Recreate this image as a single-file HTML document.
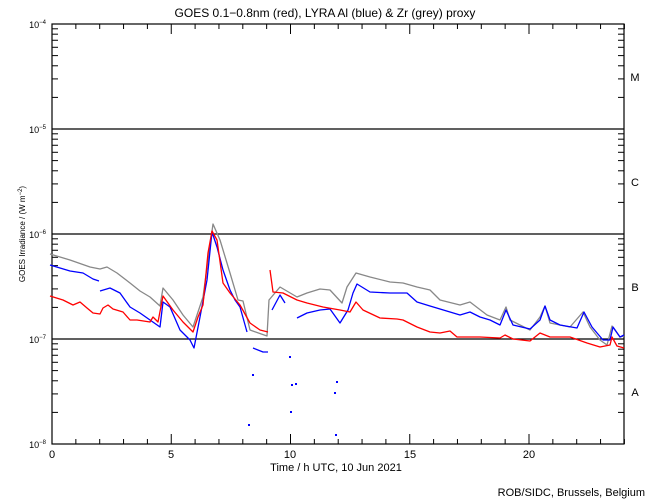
<!DOCTYPE html>
<html><head><meta charset="utf-8"><style>
body{margin:0;background:#fff}
svg{display:block;font-family:"Liberation Sans",sans-serif}
</style></head><body>
<svg id="s" width="650" height="500" xmlns="http://www.w3.org/2000/svg">
<rect width="650" height="500" fill="#fff"/>
<text x="325" y="17" font-size="12" text-anchor="middle">GOES 0.1−0.8nm (red), LYRA Al (blue) &amp; Zr (grey) proxy</text>
<g id="ax" stroke="#000" stroke-width="1" fill="none"></g>
<rect x="52" y="24" width="572" height="420" fill="none" stroke="#000" stroke-width="1.2"/>
<g stroke="#000" stroke-width="1.3">
<line x1="52" y1="129" x2="624" y2="129"/><line x1="52" y1="234" x2="624" y2="234"/><line x1="52" y1="339" x2="624" y2="339"/>
</g>
<g font-size="9" text-anchor="end">
<text x="46" y="28">10<tspan font-size="6" dy="-4">−4</tspan></text>
<text x="46" y="133">10<tspan font-size="6" dy="-4">−5</tspan></text>
<text x="46" y="238">10<tspan font-size="6" dy="-4">−6</tspan></text>
<text x="46" y="343">10<tspan font-size="6" dy="-4">−7</tspan></text>
<text x="46" y="448">10<tspan font-size="6" dy="-4">−8</tspan></text>
</g>
<g font-size="11" text-anchor="middle">
<text x="52" y="458">0</text><text x="171" y="458">5</text><text x="290" y="458">10</text><text x="410" y="458">15</text><text x="529" y="458">20</text>
<text x="336" y="471">Time / h UTC, 10 Jun 2021</text>
<text x="635" y="81">M</text><text x="635" y="186">C</text><text x="635" y="291">B</text><text x="635" y="396">A</text>
</g>
<text x="645" y="496" font-size="11" text-anchor="end">ROB/SIDC, Brussels, Belgium</text>
<text transform="translate(25,234) rotate(-90)" font-size="8" text-anchor="middle">GOES Irradiance / (W m<tspan font-size="6" dy="-3">−2</tspan><tspan dy="3">)</tspan></text>
<g fill="none" stroke-width="1.3" stroke-linejoin="round">
<polyline stroke="#888" points="50,254 70,260 90,267 100,269 107,267 117,273 130,283 140,291 150,297 160,306 163,288 173,300 183,315 193,327 203,297 208,260 213,224 220,240 230,273 238,300 243,301 250,330 267,336 269,300 280,287 297,297 307,293 320,289 330,290 342,303 347,287 356,273 370,277 390,282 403,283 417,287 430,290 440,300 460,305 470,302 487,315 500,320 506,307 510,320 530,330 540,317 545,306 550,323 570,327 583,312 590,327 600,340 607,345 612,326 620,337 624,336"/>
<polyline stroke="#00f" points="50,265 70,271 83,273 93,279 99,281"/>
<polyline stroke="#00f" points="100,291 110,288 120,293 130,307 140,313 150,320 160,327 163,302 170,307 180,330 190,340 194,348 200,317 207,280 212,232 217,247 223,270 230,290 235,300 240,307 247,332"/>
<polyline stroke="#00f" points="253,348 263,352 268,352"/>
<polyline stroke="#00f" points="272,310 280,295 285,303"/>
<polyline stroke="#00f" points="297,318 307,313 320,310 330,309 340,323 348,310 353,293 357,284 370,292 390,293 407,293 417,302 430,306 440,309 460,315 470,312 480,317 490,320 500,325 506,310 513,325 530,329 540,320 545,306 550,320 560,325 577,328 584,312 592,327 603,340 610,340 613,327 620,337 624,335"/>
<polyline stroke="#f00" points="50,296 63,300 73,305 80,302 87,308 93,313 100,314 103,308 108,305 113,309 123,312 130,320 137,320 150,322 153,317 158,322 163,296 173,310 183,322 193,332 198,317 203,305 208,253 212,231 217,240 223,283 230,293 240,305 250,323 260,330 268,332"/>
<polyline stroke="#f00" points="270,270 273,292 283,293 297,300 307,303 323,307 340,310 350,312 356,302 363,310 380,318 397,319 403,320 417,327 430,332 440,333 450,331 457,337 480,337 500,338 505,335 513,339 530,341 540,333 550,337 570,337 587,343 600,347 610,345 612,337 617,346 624,348"/>
</g>
<g fill="#00f"><rect x="248" y="424" width="2" height="2"/><rect x="252" y="374" width="2" height="2"/><rect x="290" y="411" width="2" height="2"/><rect x="335" y="434" width="2" height="2"/><rect x="336" y="381" width="2" height="2"/><rect x="291" y="384" width="2" height="2"/><rect x="289" y="356" width="2" height="2"/><rect x="295" y="383" width="2" height="2"/><rect x="334" y="392" width="2" height="2"/></g>
</svg>
<script>
var g=document.getElementById('ax'),ns='http://www.w3.org/2000/svg';
function L(a,b,c,d){var l=document.createElementNS(ns,'line');l.setAttribute('x1',a);l.setAttribute('y1',b);l.setAttribute('x2',c);l.setAttribute('y2',d);g.appendChild(l);}
for(var d=0;d<4;d++){var base=444-105*d;for(var k=2;k<=9;k++){var y=base-105*Math.log10(k);L(52,y,58,y);L(618,y,624,y);}}
for(var h=0;h<=24;h++){var x=52+h*23.85,len=(h%5==0)?10:5;L(x,444,x,444-len);L(x,24,x,24+len);}
</script>
</body></html>
